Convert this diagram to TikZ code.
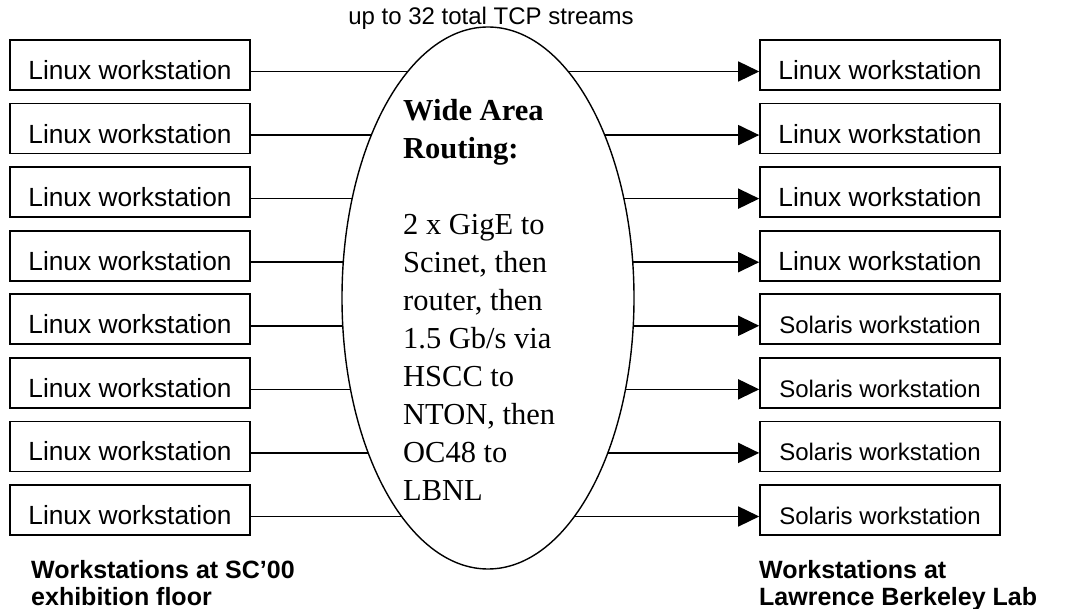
\documentclass[tikz,border=0pt]{standalone}
\usepackage{fontspec}
\setmainfont{Liberation Serif}
\setsansfont{Liberation Sans}
\usetikzlibrary{
	arrows.meta,
	calc,
	shapes.geometric
}
\newcommand{\wsfont}{\sffamily\fontsize{26.3}{30}\selectfont}
\newcommand{\solfont}{\sffamily\fontsize{24}{28}\selectfont}
\newcommand{\sitefont}{\sffamily\bfseries\fontsize{25}{27}\selectfont}

\begin{document}
\begin{tikzpicture}[x=1pt, y=-1pt,
		box/.style={draw, line width=1.6pt, minimum width=240pt, minimum height=50pt, inner sep=0pt, text height=29pt, text depth=0pt},
		wire/.style={line width=1.5pt}]
	\useasboundingbox (0,0) rectangle (1071,609);
	
	\coordinate (C) at (488,298); % centre of the routing ellipse
	\node[draw, ellipse, line width=1.4pt, minimum width=292pt, minimum height=542pt, inner sep=0pt, outer sep=0pt] (wan) at (C) {};
	
	\node[anchor=base, font=\sffamily\fontsize{24}{28}\selectfont] (streams) at (491,25) {up to 32 total TCP streams};
	
	\node[anchor=north west, align=left, inner sep=0pt, font=\rmfamily\fontsize{30.5}{38}\selectfont] (route) at (403,99.5)
		{\textbf{Wide Area}\\\textbf{Routing:}\\[38pt]2 x GigE to\\Scinet, then\\router, then\\1.5 Gb/s via\\HSCC to\\NTON, then\\OC48 to\\LBNL};
	
	% one row per TCP stream group
	\foreach \i in {1,...,8} {
		\pgfmathsetmacro{\yc}{65+63.57*(\i-1)}
		\pgfmathsetmacro{\yl}{\yc+6.5}
		\pgfmathsetmacro{\dx}{146*sqrt(1-((\yl-298)/271)^2)}
		\node[box, font=\wsfont] (src\i) at (130,\yc) {Linux workstation};
		\coordinate (inL\i) at ({488-\dx},\yl);
		\coordinate (outR\i) at ({488+\dx},\yl);
		\ifnum\i<5
			\node[box, font=\wsfont] (dst\i) at (880,\yc) {Linux workstation};
		\else
			\node[box, font=\solfont] (dst\i) at (880,\yc) {Solaris workstation};
		\fi
		\draw[wire] (src\i.east |- inL\i) -- (inL\i);
		\draw[wire, -{Triangle[length=21pt, width=20pt]}] (outR\i) -- (dst\i.west |- outR\i);
	}
	
	\node[anchor=north west, align=left, inner sep=0pt, font=\sitefont] (floor) at (31,560) {Workstations at SC’00\\exhibition floor};
	\node[anchor=north west, align=left, inner sep=0pt, font=\sitefont] (lbl) at (759,560) {Workstations at\\Lawrence Berkeley Lab};
\end{tikzpicture}
\end{document}
